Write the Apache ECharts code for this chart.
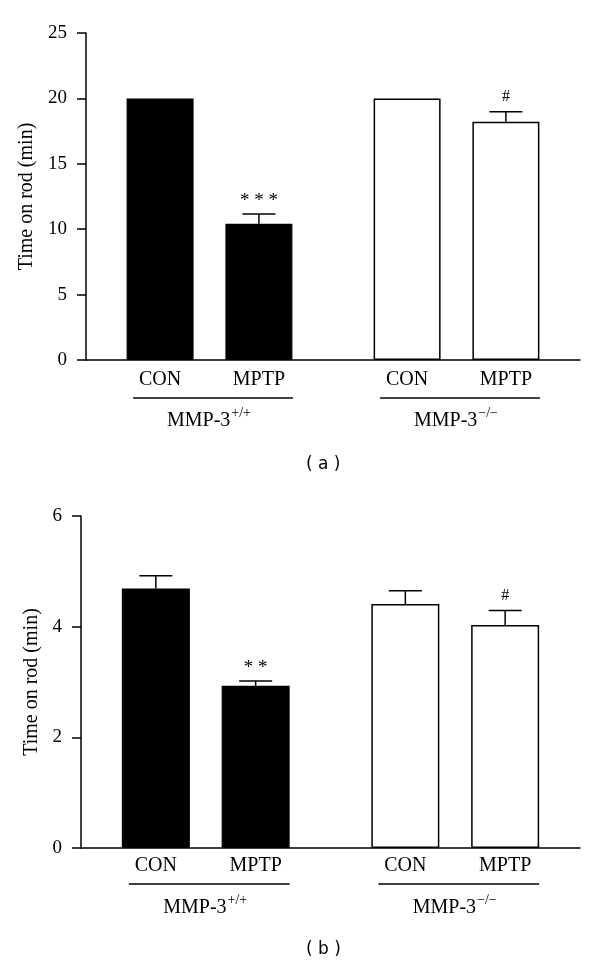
<!DOCTYPE html>
<html>
<head>
<meta charset="utf-8">
<script src="https://cdn.jsdelivr.net/npm/echarts@6/dist/echarts.min.js"></script>
<style>
html,body{margin:0;padding:0;background:#fff;}
#chart{width:600px;height:970px;}
</style>
</head>
<body>
<div id="chart"></div>
<script>
// Slots on the category axis (blank slots give the gaps between groups)
const slots = ['', 'CON', '', 'MPTP', '', '', 'CON', '', 'MPTP', ''];
const barSlots = [1, 3, 6, 8];
const barFilled = [true, true, false, false];

// Panel (a)
const meanA = [20, 10.42, 20, 18.22];
const errTopA = [null, 11.16, null, 18.98];
const markA = ['', '* * *', '', '#'];
const ticksA = {min: 0, max: 25, interval: 5};

// Panel (b)
const meanB = [4.69, 2.93, 4.41, 4.03];
const errTopB = [4.92, 3.02, 4.65, 4.29];
const markB = ['', '* *', '', '#'];
const ticksB = {min: 0, max: 6, interval: 2};

// Groups
const groupNames = ['{m|MMP-3}{s|+/+}', '{m|MMP-3}{s|\u2212/\u2212}'];
const groupSpans = [[1, 3], [6, 8]];

const yName = 'Time on rod (min)';
const panelLabels = ['( a )', '( b )'];

const SERIF = '"Liberation Serif", "DejaVu Serif", serif';

function barData(means) {
  const d = slots.map(() => '-');
  means.forEach((v, i) => {
    d[barSlots[i]] = {
      value: v,
      itemStyle: barFilled[i]
        ? {color: '#000', borderColor: '#000', borderWidth: 1.2}
        : {color: '#fff', borderColor: '#000', borderWidth: 1.5}
    };
  });
  return d;
}

function errData(means, tops) {
  const d = [];
  means.forEach((v, i) => {
    d.push([barSlots[i], v, tops[i] == null ? v : tops[i], i]);
  });
  return d;
}

function errRender(tops, marks) {
  return function (params, api) {
    const i = api.value(3);
    const base = api.coord([api.value(0), api.value(1)]);
    const top = api.coord([api.value(0), api.value(2)]);
    const children = [];
    if (tops[i] != null) {
      children.push({type: 'line', shape: {x1: base[0], y1: base[1], x2: top[0], y2: top[1]},
        style: {stroke: '#000', lineWidth: 1.5}});
      children.push({type: 'line', shape: {x1: top[0] - 16.5, y1: top[1], x2: top[0] + 16.5, y2: top[1]},
        style: {stroke: '#000', lineWidth: 1.5}});
    }
    if (marks[i]) {
      const isHash = marks[i] === '#';
      children.push({type: 'text', x: top[0], y: top[1] - (isHash ? 15 : 13),
        style: {text: marks[i], fill: '#000', font: (isHash ? '16px ' : '19px ') + SERIF,
          align: 'center', verticalAlign: 'middle'}});
    }
    return {type: 'group', children: children};
  };
}

function groupRender(lineOff, labelOff) {
  return function (params, api) {
    const i = params.dataIndex;
    const cs = params.coordSys;
    const bottom = cs.y + cs.height;
    const s = api.coord([api.value(0), 0]);
    const e = api.coord([api.value(1), 0]);
    const x1 = s[0] - 27, x2 = e[0] + 34;
    return {type: 'group', children: [
      {type: 'line', shape: {x1: x1, y1: bottom + lineOff, x2: x2, y2: bottom + lineOff},
        style: {stroke: '#000', lineWidth: 1.5}},
      {type: 'text', x: (x1 + x2) / 2 - 4, y: bottom + labelOff,
        style: {text: groupNames[i], align: 'center', verticalAlign: 'middle', fill: '#000',
          rich: {m: {fontFamily: SERIF, fontSize: 20, fill: '#000', lineHeight: 24},
                 s: {fontFamily: SERIF, fontSize: 14, fill: '#000', padding: [0, 0, 16, 1], lineHeight: 24}}}}
    ]};
  };
}

function xAxis(gi, margin) {
  return {
    type: 'category', gridIndex: gi, data: slots,
    axisLine: {lineStyle: {color: '#000', width: 1.5}},
    axisTick: {show: false},
    axisLabel: {interval: 0, color: '#000', fontFamily: SERIF, fontSize: 20, margin: margin}
  };
}

function yAxis(gi, t, gap) {
  return {
    type: 'value', gridIndex: gi, min: t.min, max: t.max, interval: t.interval,
    name: yName, nameLocation: 'middle', nameGap: gap, nameRotate: 90,
    nameTextStyle: {color: '#000', fontFamily: SERIF, fontSize: 20},
    axisLine: {show: true, lineStyle: {color: '#000', width: 1.5}},
    axisTick: {show: true, length: 9, lineStyle: {color: '#000', width: 1.5}},
    axisLabel: {color: '#000', fontFamily: SERIF, fontSize: 19, margin: 19},
    splitLine: {show: false}
  };
}

const chart = echarts.init(document.getElementById('chart'), null, {renderer: 'canvas'});
chart.setOption({
  backgroundColor: '#fff',
  animation: false,
  grid: [
    {left: 86, top: 33, width: 494, height: 327},
    {left: 81, top: 516, width: 499, height: 332}
  ],
  xAxis: [xAxis(0, 10), xAxis(1, 8)],
  yAxis: [yAxis(0, ticksA, 43), yAxis(1, ticksB, 38)],
  graphic: [
    {type: 'text', left: 306, top: 456, style: {text: panelLabels[0], font: '17px "DejaVu Sans", sans-serif', fill: '#000'}},
    {type: 'text', left: 306, top: 941, style: {text: panelLabels[1], font: '17px "DejaVu Sans", sans-serif', fill: '#000'}}
  ],
  series: [
    {type: 'bar', xAxisIndex: 0, yAxisIndex: 0, barWidth: 67, data: barData(meanA), z: 2},
    {type: 'custom', xAxisIndex: 0, yAxisIndex: 0, renderItem: errRender(errTopA, markA), data: errData(meanA, errTopA), z: 3},
    {type: 'custom', xAxisIndex: 0, yAxisIndex: 0, renderItem: groupRender(38, 61), data: groupSpans, clip: false, z: 3},
    {type: 'bar', xAxisIndex: 1, yAxisIndex: 1, barWidth: 68, data: barData(meanB), z: 2},
    {type: 'custom', xAxisIndex: 1, yAxisIndex: 1, renderItem: errRender(errTopB, markB), data: errData(meanB, errTopB), z: 3},
    {type: 'custom', xAxisIndex: 1, yAxisIndex: 1, renderItem: groupRender(36, 60), data: groupSpans, clip: false, z: 3}
  ]
});
</script>
</body>
</html>
